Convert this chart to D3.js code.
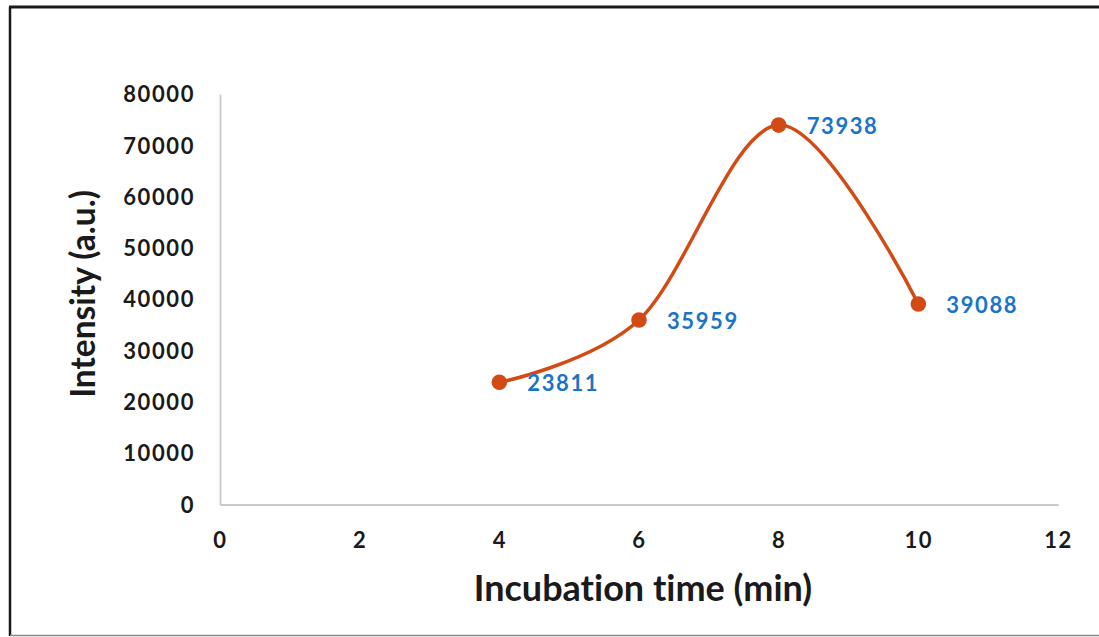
<!DOCTYPE html>
<html>
<head>
<meta charset="utf-8">
<script src="https://cdn.jsdelivr.net/npm/d3@7"></script>
<style>
  html, body { margin: 0; padding: 0; background: #fff; }
  svg { display: block; }
  text { font-family: Lato, "Open Sans", sans-serif; font-weight: bold; font-variant-ligatures: none; }
</style>
</head>
<body>
<svg id="chart" width="1099" height="637"></svg>
<script>
// Incubation time (min) and measured intensity (a.u.)
const times = [4, 6, 8, 10];
const intensity = [23811, 35959, 73938, 39088];
const xTicks = [0, 2, 4, 6, 8, 10, 12];
const yTicks = [0, 10000, 20000, 30000, 40000, 50000, 60000, 70000, 80000];
const xTitle = "Incubation time (min)";
const yTitle = "Intensity (a.u.)";

const W = 1099, H = 637;
const plot = { left: 220, right: 1058, top: 94, bottom: 504.5 };

const svg = d3.select("#chart");

// outer frame
svg.append("line").attr("x1", 10).attr("y1", 7).attr("x2", 10).attr("y2", 636)
  .attr("stroke", "#1a1a1a").attr("stroke-width", 2.5);
svg.append("line").attr("x1", 9).attr("y1", 7).attr("x2", W).attr("y2", 7)
  .attr("stroke", "#1a1a1a").attr("stroke-width", 3);
svg.append("line").attr("x1", 10).attr("y1", 635.5).attr("x2", W).attr("y2", 635.5)
  .attr("stroke", "#888").attr("stroke-width", 1.5);

const x = d3.scaleLinear().domain([0, 12]).range([plot.left, plot.right]);
const y = d3.scaleLinear().domain([0, 80000]).range([plot.bottom, plot.top]);

// axes
const xAxis = svg.append("g").attr("transform", `translate(0,${plot.bottom})`)
  .call(d3.axisBottom(x).tickValues(xTicks).tickSize(0).tickPadding(24).tickFormat(d3.format("d")));
const yAxis = svg.append("g").attr("transform", `translate(${plot.left},0)`)
  .call(d3.axisLeft(y).tickValues(yTicks).tickSize(0).tickPadding(26).tickFormat(d3.format("d")));

[xAxis, yAxis].forEach(g => {
  g.select(".domain").attr("stroke", "#c9c9c9").attr("stroke-width", 1.8);
  g.selectAll("text")
    .attr("fill", "#1a1a1a")
    .style("font-size", "22px")
    .style("letter-spacing", "1.6px");
});
xAxis.selectAll("text").attr("dy", "0.35em").attr("y", 36);
yAxis.selectAll("text").attr("dy", "0.35em").attr("x", -25);

// axis titles
svg.append("text")
  .attr("x", 643)
  .attr("y", 588)
  .attr("dy", "0.35em")
  .attr("text-anchor", "middle")
  .attr("fill", "#1a1a1a")
  .style("font-size", "36px")
  .text(xTitle);

svg.append("text")
  .attr("transform", `translate(83,294) rotate(-90)`)
  .attr("dy", "0.35em")
  .attr("text-anchor", "middle")
  .attr("fill", "#1a1a1a")
  .style("font-size", "33.5px")
  .text(yTitle);

// smoothed series line
const pts = times.map((t, i) => [t, intensity[i]]);
const line = d3.line()
  .x(d => x(d[0]))
  .y(d => y(d[1]))
  .curve(d3.curveCardinal.tension(0));

const color = "#d24b14";
svg.append("path")
  .datum(pts)
  .attr("d", line)
  .attr("fill", "none")
  .attr("stroke", color)
  .attr("stroke-width", 3.5);

svg.selectAll("circle.pt")
  .data(pts)
  .enter().append("circle")
  .attr("class", "pt")
  .attr("cx", d => x(d[0]))
  .attr("cy", d => y(d[1]))
  .attr("r", 7.8)
  .attr("fill", color);

// value labels
svg.selectAll("text.val")
  .data(pts)
  .enter().append("text")
  .attr("class", "val")
  .attr("x", d => x(d[0]) + 28)
  .attr("y", d => y(d[1]) + 1)
  .attr("dy", "0.35em")
  .attr("fill", "#1b75c5")
  .style("font-size", "22px")
  .style("letter-spacing", "1.6px")
  .text(d => d[1]);
</script>
</body>
</html>
